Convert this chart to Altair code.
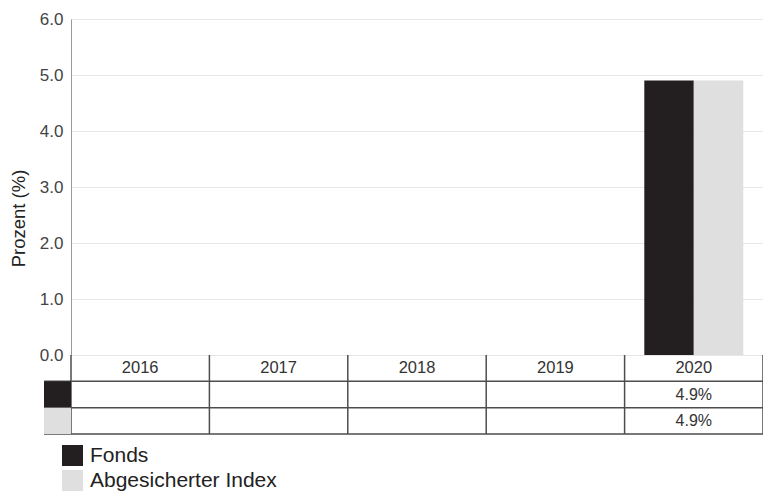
import altair as alt
import pandas as pd

# ---- data ----
years = ["2016", "2017", "2018", "2019", "2020"]
series = ["Fonds", "Abgesicherter Index"]
fonds = [None, None, None, None, 4.9]
index_vals = [None, None, None, None, 4.9]
colors = ["#231f20", "#dfdfdf"]
y_ticks = [0, 1, 2, 3, 4, 5, 6]
y_title = "Prozent (%)"
year_row = "_year"

rows = []
for s, vals in zip(series, [fonds, index_vals]):
    for y, v in zip(years, vals):
        rows.append({"year": y, "series": s, "value": v})
df = pd.DataFrame(rows)
vals_df = df.dropna().copy()
vals_df["label"] = vals_df["value"].map(lambda v: f"{v:.1f}%")

years_df = pd.DataFrame({"year": years, "row": year_row})
rowlines_df = pd.DataFrame({"row": [year_row] + series})
swatch_df = pd.DataFrame({"series": series})
end_df = pd.DataFrame({"year": [years[-1]]})

# ---- layout ----
W = 692
PH = 336
TH = 79
PAD_TOP = 11
PAD_BOTTOM = 484 - PAD_TOP - PH - TH

xscale = alt.Scale(domain=years, paddingInner=0, paddingOuter=0)
tscale = alt.Scale(domain=[year_row] + series, range=[PH, PH + TH], paddingInner=0, paddingOuter=0)
cscale = alt.Scale(domain=series, range=colors)
legend = alt.Legend(orient="none", legendX=-9, legendY=PH + TH + 11, title=None, symbolType="square",
                    symbolSize=441, symbolStrokeWidth=0, labelFontSize=21, labelColor="#222",
                    rowPadding=3, padding=0, labelOffset=7, labelLimit=500)
line_col = "#4d4d4d"

bars = alt.Chart(vals_df).mark_bar().encode(
    x=alt.X("year:N", scale=xscale, axis=None),
    xOffset=alt.XOffset("series:N", scale=alt.Scale(domain=series, paddingOuter=0.398, paddingInner=0)),
    y=alt.Y("value:Q", scale=alt.Scale(domain=[0, 6], range=[PH, 0], nice=False),
            axis=alt.Axis(values=y_ticks, format=".1f", title=y_title, grid=True, gridColor="#e6e6e6",
                          domainColor="#999999", ticks=False, labelPadding=8, labelFontSize=17,
                          labelColor="#444444", titleFontSize=18.5, titleFontWeight="normal",
                          titleColor="#222222", titleX=-43, titleY=199)),
    color=alt.Color("series:N", scale=cscale, legend=legend),
)

hlines = alt.Chart(rowlines_df).mark_rule(color=line_col, strokeWidth=1.5).encode(
    y=alt.Y("row:N", scale=tscale, axis=None, bandPosition=1),
    x=alt.value(-27),
    x2=alt.value(W),
)

vlines = alt.Chart(years_df).mark_rule(color=line_col, strokeWidth=1.5).encode(
    x=alt.X("year:N", scale=xscale, axis=None, bandPosition=0),
    y=alt.value(PH),
    y2=alt.value(PH + TH),
)

vend = alt.Chart(end_df).mark_rule(color=line_col, strokeWidth=1.5).encode(
    x=alt.X("year:N", scale=xscale, axis=None, bandPosition=1),
    y=alt.value(PH),
    y2=alt.value(PH + TH),
)

swatches = alt.Chart(swatch_df).mark_rect().encode(
    x=alt.value(-27),
    x2=alt.value(0),
    y=alt.Y("series:N", scale=tscale, axis=None),
    color=alt.Color("series:N", scale=cscale, legend=legend),
)

year_text = alt.Chart(years_df).mark_text(fontSize=16.5, color="#333333", baseline="middle").encode(
    x=alt.X("year:N", scale=xscale, axis=None),
    y=alt.Y("row:N", scale=tscale, axis=None),
    text="year:N",
)

val_text = alt.Chart(vals_df).mark_text(fontSize=16, color="#333333", baseline="middle").encode(
    x=alt.X("year:N", scale=xscale, axis=None),
    y=alt.Y("series:N", scale=tscale, axis=None),
    text="label:N",
)

chart = alt.layer(bars, hlines, vlines, vend, swatches, year_text, val_text).resolve_scale(
    y="independent"
).properties(
    width=W,
    height=PH + TH,
    autosize=alt.AutoSizeParams(type="none"),
    padding={"left": 63, "top": PAD_TOP, "right": 0, "bottom": PAD_BOTTOM},
).configure(font="Liberation Sans").configure_view(strokeWidth=0)

chart.save("out.html", embed_options={"renderer": "svg", "actions": False})
